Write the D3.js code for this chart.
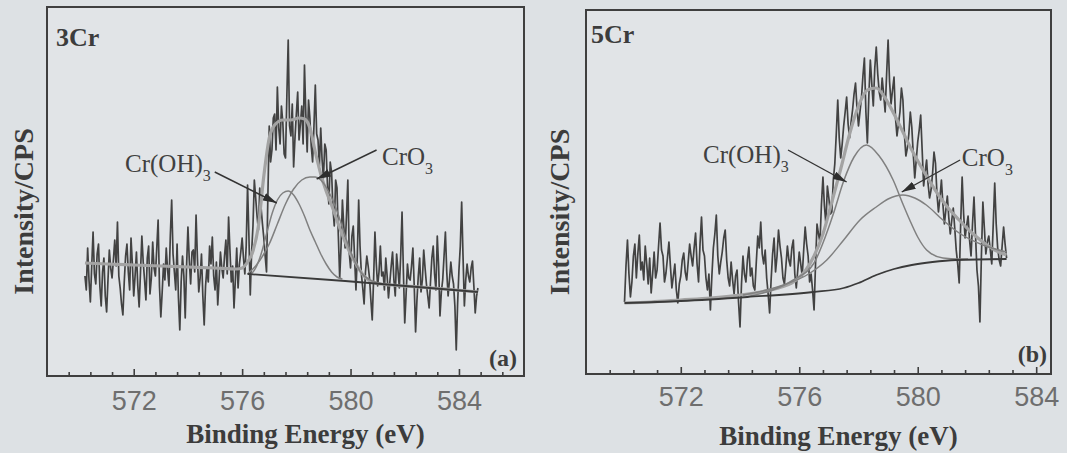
<!DOCTYPE html>
<html><head><meta charset="utf-8">
<script src="https://cdn.jsdelivr.net/npm/d3@7/dist/d3.min.js"></script>
<style>
html,body{margin:0;padding:0;background:#dde1e4;}
svg{display:block;}
</style></head>
<body>
<svg id="chart" width="1067" height="453"></svg>
<script>
// ---------------- DATA ----------------
const majorTicks = [572, 576, 580, 584];
const minorTicks = [569.6, 570.4, 571.2, 572.8, 573.6, 574.4, 575.2, 576.8, 577.6, 578.4, 579.2, 580.8, 581.6, 582.4, 583.2, 584.8, 585.6];
const tickLabels = ["572", "576", "580", "584"];
const panelTitles = ["3Cr", "5Cr"];
const panelTags = ["(a)", "(b)"];
const xTitle = "Binding Energy (eV)";
const yTitle = "Intensity/CPS";

// Panel (a) 3Cr raw spectrum: start 570.2 eV, step 0.05 eV (intensity, a.u.)
const rawStartA = 570.2, rawStepA = 0.05;
const rawA = [
 100,86,128,96,74,110,144,102,92,122,132,90,70,104,118,80,64,96,126,108,     // 570.2-
 98,116,136,110,154,100,88,72,61,94,120,132,104,86,138,112,80,100,124,90,    // 571.2-
 69,104,140,114,96,76,118,130,82,98,134,108,100,128,156,90,59,84,112,96,     // 572.2-
 128,106,90,140,176,122,104,86,132,78,46,94,120,100,58,110,149,116,92,124,   // 573.2-
 126,104,161,118,84,98,122,80,51,90,108,94,130,112,139,100,86,114,71,96,     // 574.2-
 124,108,98,120,136,102,159,126,94,110,68,96,128,88,112,124,138,118,102,130, // 575.2-
 191,140,81,124,150,196,178,160,146,188,168,152,138,120,104,180,250,214,226,258, // 576.2-
 262,226,289,248,232,270,254,222,218,280,336,250,240,272,209,238,262,284,236,252, // 577.2-
 270,232,311,262,224,276,258,230,214,250,291,242,236,210,248,216,198,232,226,190, // 578.2-
 172,214,204,168,150,196,188,140,98,130,176,150,128,160,196,124,108,140,150,118,  // 579.2-
 86,120,176,130,102,88,72,104,120,110,98,76,56,96,144,112,90,104,130,100,    // 580.2-
 104,86,118,100,78,94,110,124,96,80,122,106,88,120,164,104,53,82,112,98,     // 581.2-
 96,110,128,90,44,76,100,118,84,96,126,108,92,80,68,94,118,130,102,86,       // 582.2-
 140,110,60,84,96,120,144,104,80,96,114,100,92,70,26,72,106,130,174,120,     // 583.2-
 70,96,112,100,94,108,115,90,63,80,88                                        // 584.2-584.7
];
// Panel (a) fitted curves [energy, intensity]
const envA = [[570.2,113],[571,112],[572,111],[573,110],[574,109],[575,108],[575.8,107],[576.0,108],[576.2,114],[576.4,125],[576.6,150],[576.8,200],[577.0,238],[577.2,251],[577.5,256],[577.8,256],[578.1,258],[578.3,257],[578.5,248],[578.7,224],[578.9,202],[579.1,185],[579.3,171],[579.6,148],[579.9,128],[580.2,112],[580.5,100],[580.9,93],[581.5,91],[582.5,89],[583.5,87],[584.7,84]];
const crohA = [[576.3,101],[576.5,108],[576.7,122],[576.9,142],[577.1,162],[577.3,176],[577.5,183],[577.7,185],[577.9,181],[578.1,172],[578.3,160],[578.5,146],[578.7,134],[578.9,122],[579.1,112],[579.3,104],[579.5,99],[579.7,97]];
const cro3A = [[576.2,102],[576.5,110],[576.8,122],[577.0,132],[577.3,152],[577.6,172],[577.9,187],[578.2,196],[578.5,199],[578.7,199],[578.9,196],[579.2,184],[579.5,165],[579.8,140],[580.1,118],[580.4,103],[580.8,95],[581.2,92]];
const bgA = [[576.2,102],[579.8,95],[584.7,84]];

// Panel (b) 5Cr raw spectrum: start 570.1 eV, step 0.05 eV
const rawStartB = 570.1, rawStepB = 0.05;
const rawB = [
 72,108,134,100,77,92,118,130,96,120,139,104,112,94,128,110,90,116,81,100,      // 570.1-
 122,96,104,128,151,124,118,92,101,116,132,108,86,98,110,84,71,90,98,114,       // 571.1-
 121,102,94,112,130,118,108,126,141,110,92,130,157,124,118,96,84,100,64,98,     // 572.1-
 126,140,159,118,100,112,122,136,144,114,96,88,112,94,80,98,104,72,47,90,       // 573.1-
 118,100,92,114,127,98,106,88,84,112,138,126,152,120,110,124,96,80,61,94,       // 574.1-
 120,136,102,118,144,128,116,96,90,108,128,114,108,126,134,100,86,104,122,110,  // 575.1-
 98,124,147,130,118,92,100,84,64,110,150,140,132,170,197,168,150,188,176,160,   // 576.1-
 162,194,210,240,274,236,216,230,248,262,277,250,236,252,264,280,291,266,248,262, // 577.1-
 276,298,316,262,231,278,314,290,268,306,327,300,282,274,296,280,262,300,334,292, // 578.1-
 270,284,297,256,238,250,262,286,274,240,218,226,240,262,247,220,196,214,232,244, // 579.1-
 259,224,188,202,214,190,176,184,200,222,211,180,162,176,194,170,150,164,178,156, // 580.1-
 140,154,166,146,124,110,91,150,197,160,136,148,158,134,118,150,177,140,104,88,   // 581.1-
 52,118,172,146,120,132,138,124,110,150,191,150,126,114,108,128,147,130,116       // 582.1-583.0
];
const envB = [[570.1,71],[571,72],[572,74],[573,76],[574,79],[574.7,82],[575.3,86],[575.8,92],[576.2,103],[576.5,118],[576.8,140],[577.1,172],[577.4,205],[577.7,240],[578.0,268],[578.3,284],[578.6,286],[578.9,276],[579.2,260],[579.5,242],[579.8,224],[580.1,208],[580.4,193],[580.7,179],[581.0,167],[581.4,154],[581.8,142],[582.2,132],[582.6,124],[583.0,119]];
const crohB = [[574.2,77],[575.1,84],[575.8,94],[576.5,111],[576.8,131],[577.15,160],[577.5,193],[577.85,217],[578.27,229],[578.7,218],[579.17,194],[579.5,170],[579.73,154],[580.0,137],[580.3,124],[580.85,116],[581.4,115],[581.7,115]];
const cro3B = [[574.1,79],[575.26,87],[576.37,101],[576.93,114],[577.5,134],[578.05,154],[578.6,167],[579.0,175],[579.5,179],[579.9,176],[580.29,169],[580.85,154],[581.4,141],[582.2,129],[583.0,122]];
const bgB = [[570.1,71],[572,73],[574.25,77],[576.47,82],[577.5,86],[578.0,91],[578.6,99],[579.2,105],[579.8,109],[580.5,112],[581.3,114],[583.0,115]];

// annotation anchors in data units: label start [E, I], arrow start [E, I], arrow tip [E, I]
const annA = [
  {name:"Cr(OH)", sub:"3", label:[571.68,204], from:[574.99,204], to:[577.28,173]},
  {name:"CrO", sub:"3", label:[581.16,211], from:[580.96,226], to:[578.75,197]}
];
const annB = [
  {name:"Cr(OH)", sub:"3", label:[572.75,211], from:[575.62,224], to:[577.6,192]},
  {name:"CrO", sub:"3", label:[581.49,208], from:[581.43,214], to:[579.46,182]}
];

// ---------------- LAYOUT ----------------
const panels = [
  {box:{l:47,r:524,t:7,b:376}, xdom:[568.8,586.4], ymax:369,
   raw:rawA, rawStart:rawStartA, rawStep:rawStepA, env:envA, c1:crohA, c2:cro3A, bg:bgA, ann:annA,
   title:panelTitles[0], tag:panelTags[0], titleXY:[56,46], tagXY:[517,366], ylabX:33, pad:15, xlabY:443},
  {box:{l:586,r:1051,t:10,b:374}, xdom:[568.8,584.5], ymax:364,
   raw:rawB, rawStart:rawStartB, rawStep:rawStepB, env:envB, c1:crohB, c2:cro3B, bg:bgB, ann:annB,
   title:panelTitles[1], tag:panelTags[1], titleXY:[591,43], tagXY:[1047,362], ylabX:569, pad:13, xlabY:445}
];

const svg = d3.select("#chart");
svg.append("rect").attr("width",1067).attr("height",453).attr("fill","#dde1e4");

const defs = svg.append("defs");
defs.append("marker").attr("id","ah").attr("viewBox","0 0 14 8")
  .attr("refX",14).attr("refY",4).attr("markerWidth",14).attr("markerHeight",8)
  .attr("markerUnits","userSpaceOnUse").attr("orient","auto")
  .append("path").attr("d","M0,0 L14,4 L0,8 Z").attr("fill","#2e2e2e");

const serif = "'Liberation Serif','Times New Roman',serif";
const sans = "'Liberation Sans',Arial,sans-serif";

panels.forEach(p => {
  const x = d3.scaleLinear().domain(p.xdom).range([p.box.l, p.box.r]);
  const y = d3.scaleLinear().domain([0, p.ymax]).range([p.box.b, p.box.t]);
  const g = svg.append("g");

  g.append("rect").attr("x",p.box.l).attr("y",p.box.t)
    .attr("width",p.box.r-p.box.l).attr("height",p.box.b-p.box.t)
    .attr("fill","#e1e4e7").attr("stroke","#3f3f3f").attr("stroke-width",2);

  // axes
  const ax = d3.axisBottom(x).tickValues(majorTicks).tickSize(-7).tickPadding(p.pad)
    .tickFormat((d,i)=>tickLabels[i]);
  const axg = g.append("g").attr("transform",`translate(0,${p.box.b})`).call(ax);
  axg.select(".domain").remove();
  axg.selectAll("line").attr("stroke","#3f3f3f").attr("stroke-width",1.6);
  axg.selectAll("text").attr("font-family",sans).attr("font-size",27).attr("fill","#6e6e6e");
  const mx = d3.axisBottom(x).tickValues(minorTicks.filter(v=>v>p.xdom[0]&&v<p.xdom[1])).tickSize(-4).tickFormat("");
  const mg = g.append("g").attr("transform",`translate(0,${p.box.b})`).call(mx);
  mg.select(".domain").remove();
  mg.selectAll("line").attr("stroke","#3f3f3f").attr("stroke-width",1.6);

  // raw
  const rawLine = d3.line().x((d,i)=>x(p.rawStart + i*p.rawStep)).y(d=>y(d));
  g.append("path").attr("d",rawLine(p.raw)).attr("fill","none")
    .attr("stroke","#424242").attr("stroke-width",1.7).attr("stroke-linejoin","round");

  const sm = d3.line().x(d=>x(d[0])).y(d=>y(d[1])).curve(d3.curveMonotoneX);
  g.append("path").attr("d",sm(p.env)).attr("fill","none").attr("stroke","#a3a3a3").attr("stroke-width",3.2);
  g.append("path").attr("d",sm(p.c1)).attr("fill","none").attr("stroke","#808080").attr("stroke-width",1.5);
  g.append("path").attr("d",sm(p.c2)).attr("fill","none").attr("stroke","#808080").attr("stroke-width",1.5);
  g.append("path").attr("d",sm(p.bg)).attr("fill","none").attr("stroke","#3a3a3a").attr("stroke-width",1.8);

  // annotations
  p.ann.forEach(a => {
    g.append("line").attr("x1",x(a.from[0])).attr("y1",y(a.from[1]))
      .attr("x2",x(a.to[0])).attr("y2",y(a.to[1]))
      .attr("stroke","#333").attr("stroke-width",1.4).attr("marker-end","url(#ah)");
    const t = g.append("text").attr("x",x(a.label[0])).attr("y",y(a.label[1]))
      .attr("font-family",serif).attr("font-size",25).attr("fill","#404040");
    t.append("tspan").text(a.name);
    t.append("tspan").attr("font-size",16).attr("dy",9).text(a.sub);
  });

  g.append("text").attr("x",p.titleXY[0]).attr("y",p.titleXY[1]).text(p.title)
    .attr("font-family",serif).attr("font-weight","bold").attr("font-size",26).attr("fill","#3c3c3c");
  g.append("text").attr("x",p.tagXY[0]).attr("y",p.tagXY[1]).text(p.tag).attr("text-anchor","end")
    .attr("font-family",serif).attr("font-weight","bold").attr("font-size",24).attr("fill","#3c3c3c");

  g.append("text").attr("transform",`translate(${p.ylabX},${(p.box.t+p.box.b)/2 + 20}) rotate(-90)`)
    .attr("text-anchor","middle").text(yTitle)
    .attr("font-family",serif).attr("font-weight","bold").attr("font-size",28).attr("fill","#3c3c3c");
  g.append("text").attr("x",(p.box.l+p.box.r)/2 + 20).attr("y",p.xlabY).attr("text-anchor","middle").text(xTitle)
    .attr("font-family",serif).attr("font-weight","bold").attr("font-size",27).attr("fill","#3c3c3c");
});
</script>
</body></html>
